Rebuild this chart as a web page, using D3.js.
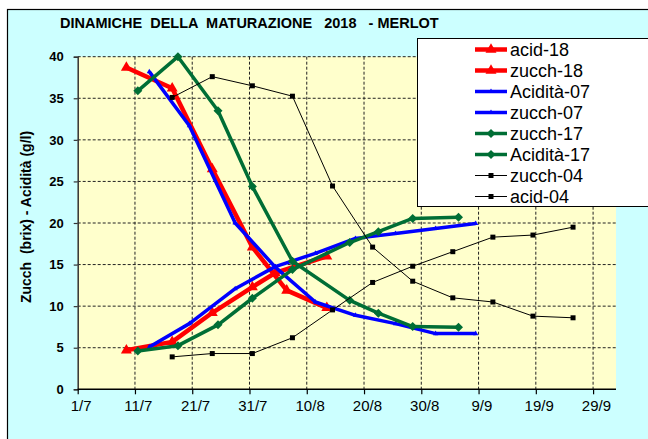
<!DOCTYPE html>
<html>
<head>
<meta charset="utf-8">
<script src="https://cdn.jsdelivr.net/npm/d3@7"></script>
<style>
  html, body { margin: 0; padding: 0; background: #fff; }
  svg text { font-family: Arial, "Liberation Sans", sans-serif; }
</style>
</head>
<body>
<div id="chart"></div>
<script>
// date labels are day/month, all seasons shown on one 2018 calendar
var xTickLabels = ["1/7", "11/7", "21/7", "31/7", "10/8", "20/8", "30/8", "9/9", "19/9", "29/9"];
var yTicks = [0, 5, 10, 15, 20, 25, 30, 35, 40];

var dates18Acid = ["9/7", "17/7", "24/7", "31/7", "6/8", "13/8"];
var acid18 = [38.7, 36.2, 26.5, 17.1, 11.9, 9.8];
var dates18Zucch = ["9/7", "17/7", "24/7", "31/7", "4/8", "13/8"];
var zucch18 = [4.7, 5.7, 9.2, 12.3, 14.0, 16.0];

var dates07 = ["13/7", "20/7", "28/7", "4/8", "11/8", "18/8", "25/8", "1/9", "8/9"];
var acid07 = [38.2, 31.7, 20.0, 14.7, 10.5, 8.9, 7.9, 6.7, 6.7];
var zucch07 = [5.1, 7.9, 12.1, 14.75, 16.35, 18.15, 18.75, 19.35, 19.95];

var dates17 = ["11/7", "18/7", "25/7", "31/7", "7/8", "17/8", "22/8", "28/8", "5/9"];
var zucch17 = [4.6, 5.25, 7.75, 10.95, 14.4, 17.65, 18.95, 20.55, 20.7];
var acid17 = [35.9, 40.0, 33.5, 24.4, 15.4, 10.7, 9.15, 7.55, 7.45];

var dates04 = ["17/7", "24/7", "31/7", "7/8", "14/8", "21/8", "28/8", "4/9", "11/9", "18/9", "25/9"];
var zucch04 = [3.9, 4.3, 4.3, 6.2, 9.55, 12.85, 14.8, 16.55, 18.3, 18.55, 19.5];
var acid04 = [35.1, 37.6, 36.5, 35.25, 24.45, 17.1, 13.0, 11.0, 10.5, 8.8, 8.6];

function parseDM(s) {
  var p = s.split("/").map(Number);
  return new Date(Date.UTC(2018, p[1] - 1, p[0]));
}

var RED = "#ff0000", BLUE = "#0000ff", GREEN = "#006e35", BLACK = "#000000";

// legend order = drawing order
var series = [
  {name: "acid-18",    dates: dates18Acid,  values: acid18,  color: RED,   width: 4.5, marker: "tri",  size: 5.5},
  {name: "zucch-18",   dates: dates18Zucch, values: zucch18, color: RED,   width: 4.5, marker: "tri",  size: 5.5},
  {name: "Acidità-07", dates: dates07,      values: acid07,  color: BLUE,  width: 3.5, marker: "tri",  size: 2.6},
  {name: "zucch-07",   dates: dates07,      values: zucch07, color: BLUE,  width: 3.5, marker: "tri",  size: 2.6},
  {name: "zucch-17",   dates: dates17,      values: zucch17, color: GREEN, width: 3.5, marker: "dia",  size: 4.5},
  {name: "Acidità-17", dates: dates17,      values: acid17,  color: GREEN, width: 3.5, marker: "dia",  size: 4.5},
  {name: "zucch-04",   dates: dates04,      values: zucch04, color: BLACK, width: 1,   marker: "sq",   size: 2.5},
  {name: "acid-04",    dates: dates04,      values: acid04,  color: BLACK, width: 1,   marker: "sq",   size: 2.5}
];

var W = 648, H = 439;
var plot = {left: 77.7, right: 616, top: 56.7, bottom: 389.3};

var svg = d3.select("#chart").append("svg")
    .attr("width", W)
    .attr("height", H);

// chart area
svg.append("rect")
    .attr("x", 7.5).attr("y", 9.5)
    .attr("width", 700).attr("height", 500)
    .attr("fill", "#ccffff")
    .attr("stroke", "#000").attr("stroke-width", 1.2);

var x = d3.scaleUtc()
    .domain([parseDM("1/7"), parseDM("3/10")])
    .range([plot.left, plot.right]);
var y = d3.scaleLinear()
    .domain([0, 40])
    .range([plot.bottom, plot.top]);
var halfDay = (x(parseDM("2/7")) - x(parseDM("1/7"))) / 2;
var px = function(s) { return x(parseDM(s)) + halfDay; };

svg.append("rect")
    .attr("x", plot.left).attr("y", plot.top)
    .attr("width", plot.right - plot.left).attr("height", plot.bottom - plot.top)
    .attr("fill", "#ffffcc");

// grid
var grid = svg.append("g").attr("stroke", "#222").attr("stroke-width", 1).attr("stroke-dasharray", "3,2");
grid.selectAll(".hg").data(yTicks.slice(1)).enter().append("line")
    .attr("x1", plot.left).attr("x2", plot.right)
    .attr("y1", function(d) { return y(d); }).attr("y2", function(d) { return y(d); });
grid.selectAll(".vg").data(xTickLabels.slice(1)).enter().append("line")
    .attr("x1", function(d) { return x(parseDM(d)); }).attr("x2", function(d) { return x(parseDM(d)); })
    .attr("y1", plot.top).attr("y2", plot.bottom);

// y axis
var yAxis = d3.axisLeft(y).tickValues(yTicks).tickSize(4).tickPadding(10);
var gy = svg.append("g").attr("transform", "translate(" + plot.left + ",0)").call(yAxis);
gy.select(".domain").attr("stroke", "#333").attr("stroke-width", 1.5);
gy.selectAll(".tick line").attr("stroke", "#333").attr("stroke-width", 1.2);
gy.selectAll(".tick text")
    .attr("font-size", 13).attr("font-weight", "bold").attr("fill", "#000")
    .attr("font-family", "Arial, 'Liberation Sans', sans-serif");

// x axis
var xAxis = d3.axisBottom(x).tickValues(xTickLabels.map(parseDM)).tickSize(5).tickPadding(6)
    .tickFormat(function(d, i) { return xTickLabels[i]; });
var gx = svg.append("g").attr("transform", "translate(0," + plot.bottom + ")").call(xAxis);
gx.select(".domain").attr("stroke", "#000").attr("stroke-width", 1.5).attr("d", "M" + plot.left + ",0H" + plot.right);
gx.selectAll(".tick line").attr("stroke", "#000").attr("stroke-width", 1.2);
gx.selectAll(".tick text")
    .attr("x", halfDay)
    .attr("font-size", 15).attr("fill", "#000")
    .attr("font-family", "Arial, 'Liberation Sans', sans-serif");

function markerPath(type, s) {
  if (type === "tri") return "M0," + (-s * 1.15) + "L" + s + "," + (s * 0.6) + "L" + (-s) + "," + (s * 0.6) + "Z";
  if (type === "dia") return "M0," + (-s) + "L" + s + ",0L0," + s + "L" + (-s) + ",0Z";
  return "M" + (-s) + "," + (-s) + "H" + s + "V" + s + "H" + (-s) + "Z";
}

var line = d3.line()
    .x(function(d) { return px(d.date); })
    .y(function(d) { return y(d.v); });

series.forEach(function(s) {
  var pts = s.dates.map(function(d, i) { return {date: d, v: s.values[i]}; });
  var g = svg.append("g");
  g.append("path")
      .attr("d", line(pts))
      .attr("fill", "none")
      .attr("stroke", s.color)
      .attr("stroke-width", s.width)
      .attr("stroke-linejoin", "round");
  g.selectAll("path.m").data(pts).enter().append("path")
      .attr("class", "m")
      .attr("transform", function(d) { return "translate(" + px(d.date) + "," + y(d.v) + ")"; })
      .attr("d", markerPath(s.marker, s.size))
      .attr("fill", s.color);
});

// title
svg.append("text")
    .attr("x", 60).attr("y", 28)
    .attr("font-size", 14.5).attr("font-weight", "bold")
    .style("white-space", "pre")
    .text("DINAMICHE  DELLA  MATURAZIONE   2018   - MERLOT");

// y label
svg.append("text")
    .attr("transform", "translate(31,217) rotate(-90)")
    .attr("text-anchor", "middle")
    .attr("font-size", 14).attr("font-weight", "bold")
    .style("white-space", "pre")
    .text("Zucch  (brix) - Acidità (g/l)");

// legend
var leg = svg.append("g");
leg.append("rect")
    .attr("x", 417.5).attr("y", 38.5)
    .attr("width", 300).attr("height", 168)
    .attr("fill", "#fff")
    .attr("stroke", "#000").attr("stroke-width", 1);
var items = leg.selectAll(".item").data(series).enter().append("g")
    .attr("transform", function(d, i) { return "translate(0," + (49.5 + i * 21) + ")"; });
items.append("line")
    .attr("x1", 475).attr("x2", 507)
    .attr("stroke", function(d) { return d.color; })
    .attr("stroke-width", function(d) { return d.width; });
items.append("path")
    .attr("transform", "translate(491,0)")
    .attr("d", function(d) { return markerPath(d.marker, d.size); })
    .attr("fill", function(d) { return d.color; });
items.append("text")
    .attr("x", 510).attr("dy", "0.35em")
    .attr("font-size", 18)
    .text(function(d) { return d.name; });
</script>
</body>
</html>
